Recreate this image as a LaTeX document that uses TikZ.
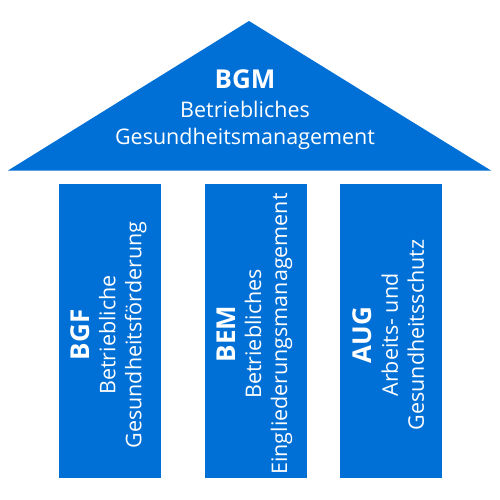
\documentclass[tikz,border=0pt]{standalone}
\usepackage{fontspec}
\setmainfont{Open Sans}
\usetikzlibrary{positioning}
\definecolor{bgmblue}{HTML}{0070D6}
\tikzset{
  roof/.style={fill=bgmblue, draw=none},
  pillar/.style={fill=bgmblue, draw=none, minimum width=102pt, minimum height=294pt, inner sep=0pt},
  pillartxt/.style={rotate=90, inner sep=0pt, align=center, text=white,
                    font=\fontsize{21.5}{26}\selectfont},
  rooftxt/.style={text=white, align=center, inner sep=0pt, font=\fontsize{21.5}{27}\selectfont},
}
\newcommand{\abbrfont}{\fontsize{26}{30}\selectfont\bfseries}
\begin{document}
\begin{tikzpicture}[x=1pt,y=-1pt]
\useasboundingbox (0,0) rectangle (500,500);
% roof
\coordinate (apex) at (249,21);
\coordinate (eaveL) at (8,170.5);
\coordinate (eaveR) at (491,170.5);
\fill[roof] (eaveL) -- (apex) -- (eaveR) -- cycle;
\node[rooftxt] (bgm) at (245,110)
   {{\abbrfont BGM}\\[2pt] Betriebliches\\ Gesundheitsmanagement};
% pillars
\node[pillar] (bgf) at (110,331) {};
\node[pillar] (bem) at (256,331) {};
\node[pillar] (aug) at (391,331) {};
\node[pillartxt] (bgftxt) at ([shift={(-1.5,4)}]bgf.center)
   {{\abbrfont BGF}\\ Betriebliche\\ Gesundheitsförderung};
\node[pillartxt] (bemtxt) at ([shift={(-1.5,3)}]bem.center)
   {{\abbrfont BEM}\\ Betriebliches\\ Eingliederungsmanagement};
\node[pillartxt] (augtxt) at ([shift={(-2.5,4)}]aug.center)
   {{\abbrfont AUG}\\ Arbeits- und\\ Gesundheitsschutz};
\end{tikzpicture}
\end{document}
